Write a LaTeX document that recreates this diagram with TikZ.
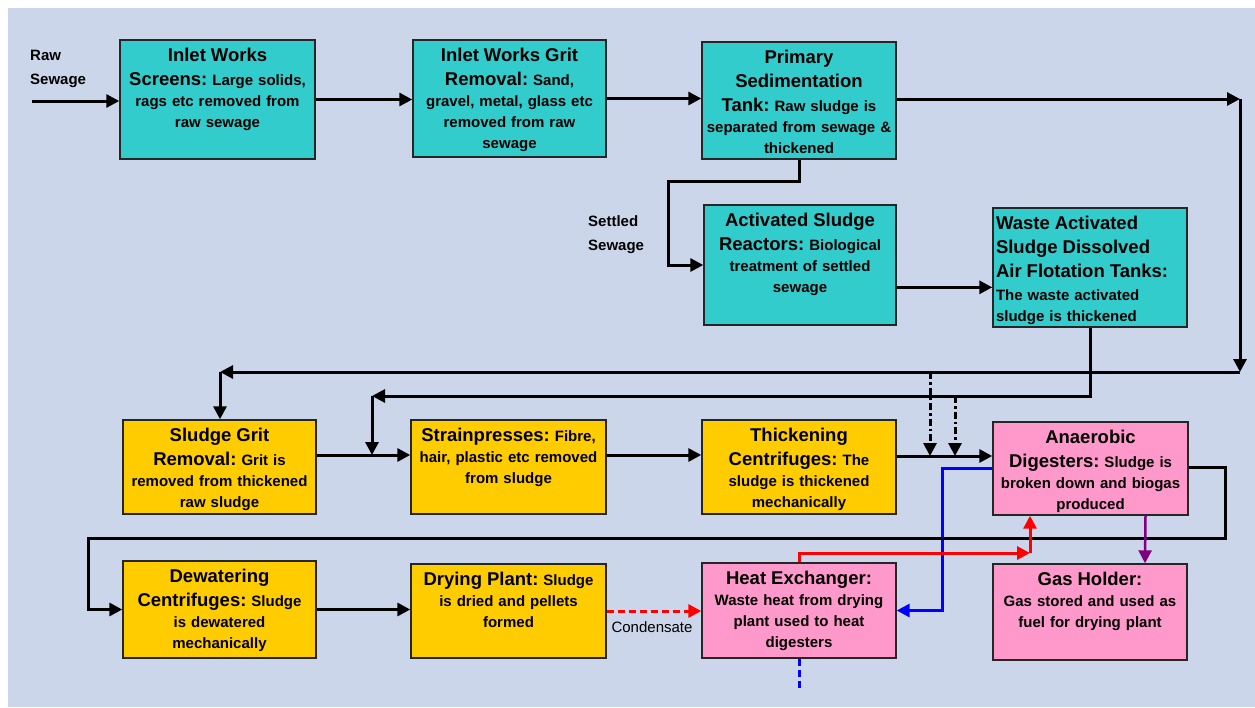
\documentclass[tikz,border=0pt]{standalone}
\usepackage{fontspec}
\setmainfont{Liberation Sans}
\usetikzlibrary{arrows.meta,calc}
\frenchspacing
\definecolor{bgblue}{RGB}{204,214,234}
\definecolor{procteal}{HTML}{33CCCC}
\definecolor{procyel}{HTML}{FFCC00}
\definecolor{procpink}{HTML}{FF99CC}
\definecolor{gaspurple}{HTML}{800080}
\newcommand{\hd}[1]{{\fontsize{18.5}{24}\selectfont #1}}
\tikzset{
  box/.style={draw=black!85, line width=1.4pt, inner sep=0pt},
  tealbox/.style={box, fill=procteal},
  yelbox/.style={box, fill=procyel},
  pinkbox/.style={box, fill=procpink},
  boxtext/.style={anchor=north, inner xsep=0pt, inner ysep=8.5pt, text width=210pt,
    align=center, font=\fontsize{15}{21}\selectfont\bfseries},
  lbl/.style={anchor=north west, inner sep=0pt, align=left,
    font=\fontsize{15}{24}\selectfont\bfseries},
  flow/.style={line width=3pt, -{Triangle[length=13pt,width=13pt]}},
  dashline/.style={dash pattern=on 7pt off 4pt},
  dotdash/.style={dash pattern=on 7pt off 3pt on 2.5pt off 3pt},
}
\begin{document}
\begin{tikzpicture}[x=1pt,y=-1pt]
  \useasboundingbox (0,0) rectangle (1255,707);
  \fill[bgblue] (8,8) rectangle (1255,707);
  % liquid line
  \node[tealbox, minimum width=195pt, minimum height=119pt] (screens) at (217.5,99.5) {};
  \node[boxtext] (screens-t) at (screens.north) {\hd{Inlet Works}\\[3pt] \hd{Screens:} Large solids,\\ rags etc removed from\\ raw sewage};
  \node[tealbox, minimum width=193pt, minimum height=117pt] (gritrem) at (509.5,98.5) {};
  \node[boxtext] (gritrem-t) at (gritrem.north) {\hd{Inlet Works Grit}\\[3pt] \hd{Removal:} Sand,\\ gravel, metal, glass etc\\ removed from raw\\ sewage};
  \node[tealbox, minimum width=194pt, minimum height=117pt] (primary) at (799,100.5) {};
  \node[boxtext] (primary-t) at (primary.north) {\hd{Primary}\\[3pt] \hd{Sedimentation}\\[3pt] \hd{Tank:} Raw sludge is\\ separated from sewage \&\\ thickened};
  \node[tealbox, minimum width=192pt, minimum height=120pt] (reactors) at (800,265) {};
  \node[boxtext] (reactors-t) at (reactors.north) {\hd{Activated Sludge}\\[3pt] \hd{Reactors:} Biological\\ treatment of settled\\ sewage};
  \node[tealbox, minimum width=194pt, minimum height=119pt] (daf) at (1090,267.5) {};
  \node[boxtext, text width=188pt, align=left] (daf-t) at (daf.north) {\hd{Waste Activated}\\[3pt] \hd{Sludge Dissolved}\\[3pt] \hd{Air Flotation Tanks:}\\[2pt] The waste activated\\ sludge is thickened};
  % sludge line
  \node[yelbox, minimum width=193pt, minimum height=94pt] (sgrit) at (219.5,467) {};
  \node[boxtext] (sgrit-t) at (sgrit.north) {\hd{Sludge Grit}\\[3pt] \hd{Removal:} Grit is\\ removed from thickened\\ raw sludge};
  \node[yelbox, minimum width=195pt, minimum height=94pt] (strain) at (508.5,467) {};
  \node[boxtext] (strain-t) at (strain.north) {\hd{Strainpresses:} Fibre,\\ hair, plastic etc removed\\ from sludge};
  \node[yelbox, minimum width=194pt, minimum height=94pt] (thick) at (799,467) {};
  \node[boxtext] (thick-t) at (thick.north) {\hd{Thickening}\\[3pt] \hd{Centrifuges:} The\\ sludge is thickened\\ mechanically};
  \node[pinkbox, minimum width=195pt, minimum height=93pt] (digest) at (1090.5,468.5) {};
  \node[boxtext] (digest-t) at (digest.north) {\hd{Anaerobic}\\[3pt] \hd{Digesters:} Sludge is\\ broken down and biogas\\ produced};
  \node[yelbox, minimum width=193pt, minimum height=97pt] (dewater) at (219.5,609.5) {};
  \node[boxtext] (dewater-t) at (dewater.north) {\hd{Dewatering}\\[3pt] \hd{Centrifuges:} Sludge\\ is dewatered\\ mechanically};
  \node[yelbox, minimum width=195pt, minimum height=94pt] (drying) at (508.5,611) {};
  \node[boxtext] (drying-t) at (drying.north) {\hd{Drying Plant:} Sludge\\ is dried and pellets\\ formed};
  \node[pinkbox, minimum width=194pt, minimum height=95pt] (heatex) at (799,610.5) {};
  \node[boxtext] (heatex-t) at (heatex.north) {\hd{Heat Exchanger:}\\ Waste heat from drying\\ plant used to heat\\ digesters};
  \node[pinkbox, minimum width=194pt, minimum height=96pt] (gasholder) at (1090,612) {};
  \node[boxtext] (gasholder-t) at (gasholder.north) {\hd{Gas Holder:}\\ Gas stored and used as\\ fuel for drying plant};
  % labels
  \node[lbl] (rawlbl) at (30,50) {Raw\\ Sewage};
  \node[lbl] (settledlbl) at (588,215) {Settled\\ Sewage};
  \node[font=\fontsize{15}{18}\selectfont, inner sep=0pt] (condlbl) at (652,627) {Condensate};
  % arrows
  \coordinate (rawin) at (32,101);
  \draw[flow] (rawin) -- (rawin -| screens.west);
  \draw[flow] (screens.east) -- (screens.east -| gritrem.west);
  \draw[flow] (gritrem.east) -- (gritrem.east -| primary.west);
  \coordinate (ret-a) at (1240,99);
  \coordinate (ret-b) at (1240,372);
  \coordinate (ret-c) at (220,372);
  \draw[flow] (primary.east |- ret-a) -- (ret-a);
  \draw[flow] (ret-a) -- (ret-b);
  \draw[flow] (ret-b) -- (ret-c);
  \draw[flow] (ret-c) -- (ret-c |- sgrit.north);
  \draw[flow] (primary.south) -- ++(0,22) -| (668,265) -- (reactors.west);
  \draw[flow] (reactors.-13) -- (reactors.-13 -| daf.west);
  \coordinate (was-c) at (372,396);
  \draw[flow] (daf.south) |- (was-c);
  \coordinate (sg-e) at ($(sgrit.east)+(0,-12)$);
  \coordinate (st-e) at ($(strain.east)+(0,-12)$);
  \coordinate (th-e) at ($(thick.east)+(0,-11)$);
  \draw[flow] (was-c) -- (was-c |- sg-e);
  \draw[flow] (sg-e) -- (sg-e -| strain.west);
  \draw[flow] (st-e) -- (st-e -| thick.west);
  \draw[flow] (th-e) -- (th-e -| digest.west);
  \coordinate (dd1) at (930,372);
  \coordinate (dd2) at (955,396);
  \draw[flow, dotdash] (dd1) -- (dd1 |- th-e);
  \draw[flow, dotdash] (dd2) -- (dd2 |- th-e);
  \draw[flow, blue] ($(digest.west)+(0,-0.5)$) -- ++(-50,0) |- (heatex.east);
  \draw[flow] ($(digest.east)+(0,-1.5)$) -- ++(37,0) |- (88,538) |- (dewater.west);
  \draw[flow] (dewater.east) -- (dewater.east -| drying.west);
  \draw[flow, red, dashline] (drying.east) -- (drying.east -| heatex.west);
  \coordinate (hot) at (1030,553);
  \draw[flow, red] (heatex.north) |- (hot);
  \draw[flow, red] (hot) -- (hot |- digest.south);
  \draw[flow, gaspurple, line width=2.5pt] ($(digest.south)+(55,0)$) -- ($(gasholder.north)+(55,0)$);
  \draw[line width=3pt, blue, dashline] (heatex.south) -- ++(0,30);
\end{tikzpicture}
\end{document}
